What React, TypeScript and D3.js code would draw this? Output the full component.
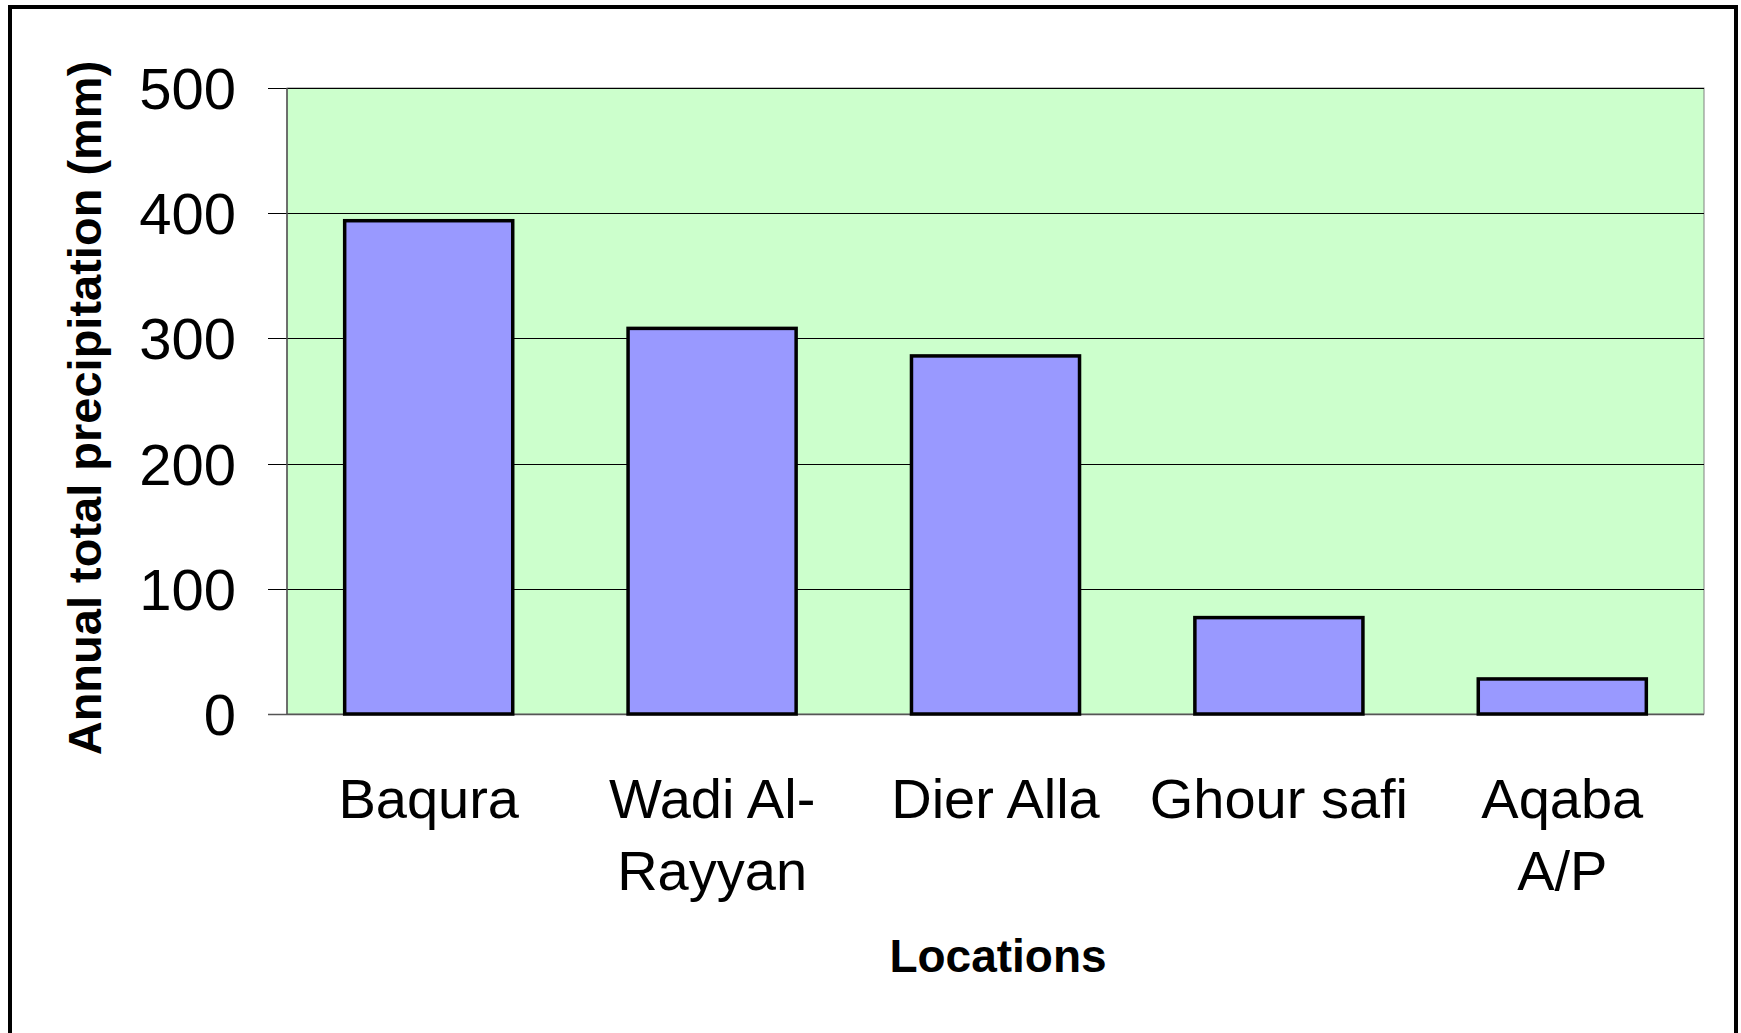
import React from "react";
import { scaleBand, scaleLinear } from "d3";

const locations = ["Baqura", "Wadi Al-Rayyan", "Dier Alla", "Ghour safi", "Aqaba A/P"];
// how Excel wrapped the category names
const locationLines = [["Baqura"], ["Wadi Al-", "Rayyan"], ["Dier Alla"], ["Ghour safi"], ["Aqaba", "A/P"]];
const precipitation = [394, 308, 286, 77, 28];
const yTicks = [0, 100, 200, 300, 400, 500];

const W = 1741;
const H = 1033;
const font = "'Liberation Sans', Arial, sans-serif";

export default function App() {
  const plot = { left: 287, right: 1704, top: 88, bottom: 714 };

  const x = scaleBand<string>()
    .domain(locations)
    .range([plot.left, plot.right])
    .paddingInner(0.407)
    .paddingOuter(0.2035);
  const y = scaleLinear().domain([0, 500]).range([plot.bottom, plot.top]);

  return (
    <svg
      width={W}
      height={H}
      style={{ position: "absolute", left: 0, top: 0, background: "#fff" }}
      fontFamily={font}
    >
      {/* outer chart border, bottom edge runs off the picture */}
      <rect x={10} y={7} width={1726} height={1040} fill="none" stroke="#000" strokeWidth={4} />

      {/* plot area */}
      <rect
        x={plot.left}
        y={plot.top}
        width={plot.right - plot.left}
        height={plot.bottom - plot.top}
        fill="#CCFFCC"
        stroke="#808080"
        strokeWidth={1}
      />

      {yTicks.map((t) => (
        <g key={t}>
          <line
            x1={268}
            x2={plot.right}
            y1={Math.round(y(t)) + 0.5}
            y2={Math.round(y(t)) + 0.5}
            stroke={t === 0 ? "#555" : "#000"}
            strokeWidth={t === 0 ? 1.5 : 1}
          />
          <text x={236} y={y(t) + 21} textAnchor="end" fontSize={58} fill="#000">
            {t}
          </text>
        </g>
      ))}

      {/* left axis line */}
      <line x1={plot.left} x2={plot.left} y1={plot.top} y2={plot.bottom} stroke="#555" strokeWidth={1.5} />

      {precipitation.map((v, i) => (
        <rect
          key={locations[i]}
          x={x(locations[i])}
          y={y(v)}
          width={x.bandwidth()}
          height={plot.bottom - y(v)}
          fill="#9999FF"
          stroke="#000"
          strokeWidth={3.5}
        />
      ))}

      {locationLines.map((lines, i) => {
        const cx = (x(locations[i]) as number) + x.bandwidth() / 2;
        return (
          <text key={locations[i]} x={cx} y={818} textAnchor="middle" fontSize={56} fill="#000">
            {lines.map((l, j) => (
              <tspan key={j} x={cx} dy={j === 0 ? 0 : 72}>
                {l}
              </tspan>
            ))}
          </text>
        );
      })}

      <text x={998} y={972} textAnchor="middle" fontSize={46} fontWeight="bold" fill="#000">
        Locations
      </text>

      <text
        transform="translate(101, 408) rotate(-90)"
        textAnchor="middle"
        fontSize={47}
        fontWeight="bold"
        fill="#000"
      >
        Annual total precipitation (mm)
      </text>
    </svg>
  );
}
